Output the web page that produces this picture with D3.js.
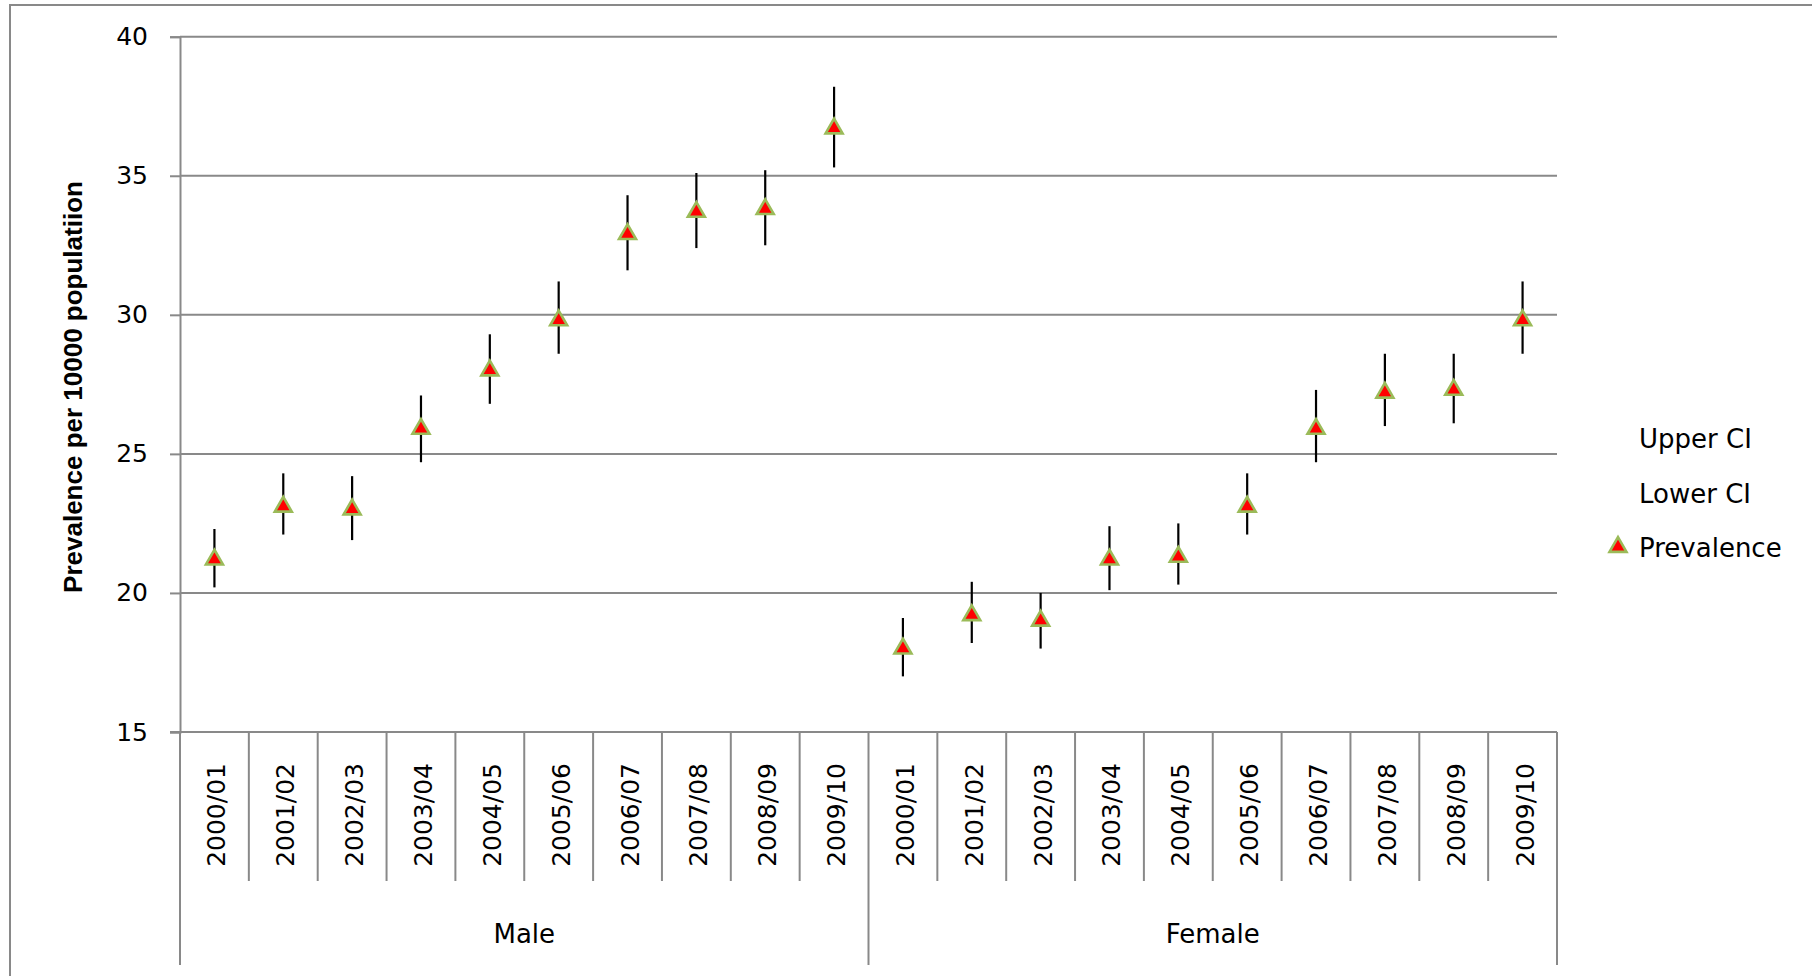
<!DOCTYPE html>
<html>
<head>
<meta charset="utf-8">
<script src="https://cdn.jsdelivr.net/npm/d3@7"></script>
<style>
  html, body { margin: 0; padding: 0; background: #ffffff; }
  svg { display: block; }
</style>
</head>
<body>
<svg id="chart" width="1812" height="976"></svg>
<script>
// ---------- data ----------
const years = ["2000/01","2001/02","2002/03","2003/04","2004/05","2005/06","2006/07","2007/08","2008/09","2009/10"];
const groups = ["Male", "Female"];

const malePrevalence = [21.2, 23.1, 23.0, 25.9, 28.0, 29.8, 32.9, 33.7, 33.8, 36.7];
const maleUpperCI    = [22.3, 24.3, 24.2, 27.1, 29.3, 31.2, 34.3, 35.1, 35.2, 38.2];
const maleLowerCI    = [20.2, 22.1, 21.9, 24.7, 26.8, 28.6, 31.6, 32.4, 32.5, 35.3];

const femalePrevalence = [18.0, 19.2, 19.0, 21.2, 21.3, 23.1, 25.9, 27.2, 27.3, 29.8];
const femaleUpperCI    = [19.1, 20.4, 20.0, 22.4, 22.5, 24.3, 27.3, 28.6, 28.6, 31.2];
const femaleLowerCI    = [17.0, 18.2, 18.0, 20.1, 20.3, 22.1, 24.7, 26.0, 26.1, 28.6];

const yTicks = [15, 20, 25, 30, 35, 40];
const legendLabels = ["Upper CI", "Lower CI", "Prevalence"];
const yTitle = "Prevalence per 10000 populatiion";

// ---------- build rows ----------
const rows = [];
groups.forEach((g, gi) => {
  const prev = gi === 0 ? malePrevalence : femalePrevalence;
  const up   = gi === 0 ? maleUpperCI : femaleUpperCI;
  const lo   = gi === 0 ? maleLowerCI : femaleLowerCI;
  years.forEach((yr, i) => {
    rows.push({ key: g + "|" + yr, group: g, year: yr, prev: prev[i], upper: up[i], lower: lo[i] });
  });
});

// ---------- layout ----------
const svg = d3.select("#chart");
const plotLeft = 180, plotRight = 1557, plotTop = 36.7, plotBottom = 732;
const gridColor = "#898989";
const baseFont = "'DejaVu Sans', sans-serif";

const x = d3.scaleBand().domain(rows.map(d => d.key)).range([plotLeft, plotRight]).padding(0);
const y = d3.scaleLinear().domain([15, 40]).range([plotBottom, plotTop]);

// outer frame (cropped chart border)
svg.append("path")
  .attr("d", `M10,976 L10,5 L1812,5`)
  .attr("fill", "none").attr("stroke", gridColor).attr("stroke-width", 2);

// gridlines
svg.append("g").selectAll("line").data(yTicks.filter(t => t !== 15)).join("line")
  .attr("x1", plotLeft).attr("x2", plotRight)
  .attr("y1", d => y(d)).attr("y2", d => y(d))
  .attr("stroke", gridColor).attr("stroke-width", 2);

// y axis
const yAxis = svg.append("g").attr("transform", `translate(${plotLeft},0)`)
  .call(d3.axisLeft(y).tickValues(yTicks).tickSize(10).tickPadding(22).tickFormat(d3.format("d")));
yAxis.select(".domain").attr("stroke", gridColor).attr("stroke-width", 2);
yAxis.selectAll(".tick line").attr("stroke", gridColor).attr("stroke-width", 2);
yAxis.selectAll(".tick text").style("font-size", "25px").style("font-family", baseFont).attr("fill", "#000");

// category axis line
svg.append("line").attr("x1", plotLeft - 10).attr("x2", plotRight).attr("y1", plotBottom).attr("y2", plotBottom)
  .attr("stroke", gridColor).attr("stroke-width", 2);

// category separators
const catBottom = 881, grpBottom = 965;
const boundaries = rows.map((d, i) => i).concat([rows.length]);
svg.append("g").selectAll("line").data(boundaries).join("line")
  .attr("x1", i => i < rows.length ? x(rows[i].key) : plotRight)
  .attr("x2", i => i < rows.length ? x(rows[i].key) : plotRight)
  .attr("y1", plotBottom)
  .attr("y2", i => (i % years.length === 0) ? grpBottom : catBottom)
  .attr("stroke", gridColor).attr("stroke-width", 2);

// category labels
svg.append("g").selectAll("text").data(rows).join("text")
  .attr("transform", d => `translate(${x(d.key) + x.bandwidth() / 2 + 2},763) rotate(-90)`)
  .attr("text-anchor", "end").attr("dy", "0.36em")
  .style("font-family", baseFont).style("font-size", "25px").attr("fill", "#000")
  .text(d => d.year);

// group labels
svg.append("g").selectAll("text").data(groups).join("text")
  .attr("x", g => {
    const ks = rows.filter(r => r.group === g);
    return (x(ks[0].key) + x(ks[ks.length - 1].key) + x.bandwidth()) / 2;
  })
  .attr("y", 943).attr("text-anchor", "middle")
  .style("font-family", baseFont).style("font-size", "26px").attr("fill", "#000")
  .text(g => g);

// y title
svg.append("text")
  .attr("transform", `translate(82,387) rotate(-90)`)
  .attr("text-anchor", "middle")
  .style("font-family", "'Liberation Sans', Arial, sans-serif")
  .style("font-weight", "bold").style("font-size", "26px").attr("fill", "#000")
  .text(yTitle);

// error bars
svg.append("g").selectAll("line").data(rows).join("line")
  .attr("x1", d => x(d.key) + x.bandwidth() / 2)
  .attr("x2", d => x(d.key) + x.bandwidth() / 2)
  .attr("y1", d => y(d.upper)).attr("y2", d => y(d.lower))
  .attr("stroke", "#000").attr("stroke-width", 2.2);

// markers
const tri = d3.symbol().type(d3.symbolTriangle).size(125);
svg.append("g").selectAll("path").data(rows).join("path")
  .attr("d", tri)
  .attr("transform", d => `translate(${x(d.key) + x.bandwidth() / 2},${y(d.prev)})`)
  .attr("fill", "#ff0000").attr("stroke", "#9bbb59").attr("stroke-width", 2.6);

// legend
const legend = svg.append("g");
legend.selectAll("text").data(legendLabels).join("text")
  .attr("x", 1639).attr("y", (d, i) => 448 + i * 54.5)
  .style("font-family", baseFont).style("font-size", "26px").attr("fill", "#000")
  .text(d => d);
legend.append("path").attr("d", tri)
  .attr("transform", `translate(1618,547)`)
  .attr("fill", "#ff0000").attr("stroke", "#9bbb59").attr("stroke-width", 2.6);
</script>
</body>
</html>
